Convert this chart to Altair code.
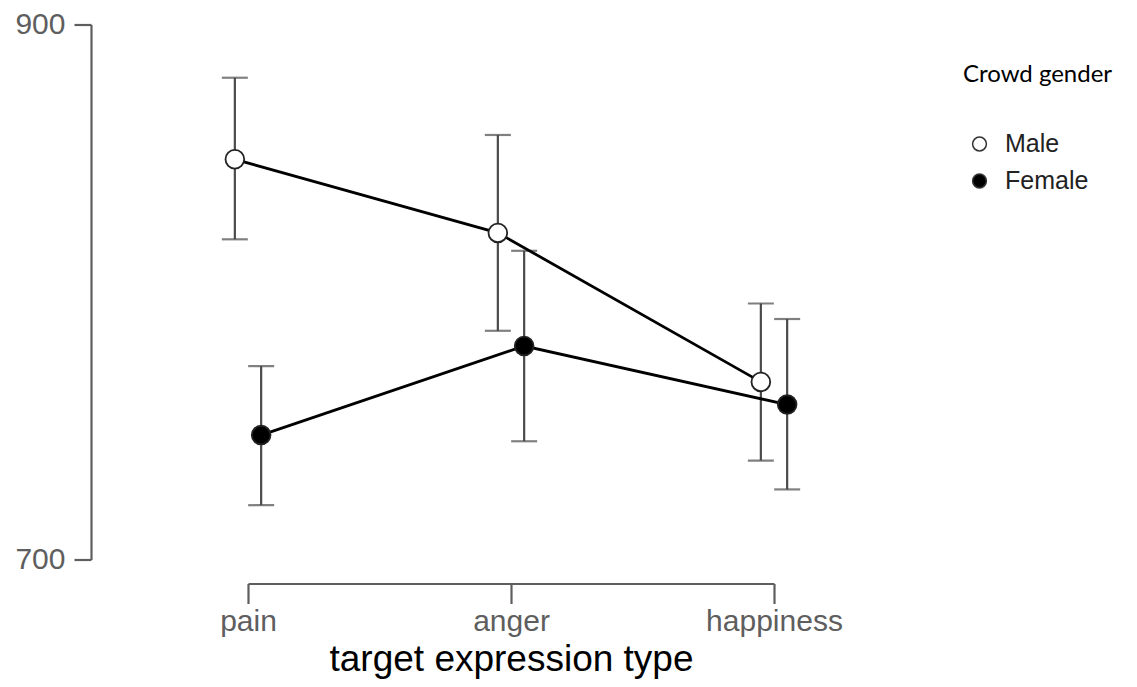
import json
import altair as alt
import pandas as pd

categories = ["pain", "anger", "happiness"]
genders = ["Male", "Female"]

male_mean = [849.6, 822.1, 766.4]
male_lo = [819.7, 785.5, 737.0]
male_hi = [880.1, 858.7, 795.7]

female_mean = [746.5, 779.8, 757.9]
female_lo = [720.3, 744.2, 726.2]
female_hi = [772.3, 815.4, 789.9]

rows = []
for i, c in enumerate(categories):
    rows.append(dict(cat=c, idx=i, gender="Male", mean=male_mean[i], lo=male_lo[i], hi=male_hi[i]))
    rows.append(dict(cat=c, idx=i, gender="Female", mean=female_mean[i], lo=female_lo[i], hi=female_hi[i]))
df = pd.DataFrame(rows)

AX = "#5e5e5e"
FONT = "Liberation Sans"

base = alt.Chart(df).transform_calculate(
    xpos="datum.idx + (datum.gender == 'Male' ? -0.05 : 0.05)"
)

x_enc = alt.X(
    "xpos:Q",
    scale=alt.Scale(domain=[0, len(categories) - 1], nice=False, zero=False),
    axis=alt.Axis(
        values=list(range(len(categories))),
        labelExpr=json.dumps(categories) + "[datum.value]",
        offset=24, tickSize=20, labelFontSize=30, labelPadding=3,
        titleFontSize=37, titleColor="black", titleFontWeight="normal",
        titlePadding=5, labelFlush=False, labelOverlap=False,
    ),
    title="target expression type",
)
y_scale = alt.Scale(domain=[700, 900], nice=False, zero=False)
y_enc = alt.Y(
    "mean:Q", scale=y_scale,
    axis=alt.Axis(values=[700, 900], offset=157, tickSize=17, labelFontSize=30, labelPadding=9),
    title=None,
)

ERR = "#4a4a4a"
err = base.mark_rule(color=ERR, strokeWidth=2.2).encode(
    x=x_enc, y=alt.Y("lo:Q", scale=y_scale), y2="hi:Q"
)
cap_lo = base.mark_tick(orient="horizontal", size=26, thickness=2.2, color=ERR).encode(
    x=x_enc, y=alt.Y("lo:Q", scale=y_scale)
)
cap_hi = base.mark_tick(orient="horizontal", size=26, thickness=2.2, color=ERR).encode(
    x=x_enc, y=alt.Y("hi:Q", scale=y_scale)
)
lines = base.mark_line(color="black", strokeWidth=2.8).encode(
    x=x_enc, y=y_enc, detail="gender:N"
)
points = base.mark_circle(size=350, stroke="#222222", strokeWidth=1.8, opacity=1).encode(
    x=x_enc, y=y_enc,
    fill=alt.Fill(
        "gender:N",
        scale=alt.Scale(domain=genders, range=["white", "black"]),
        legend=alt.Legend(
            title="Crowd gender", orient="none", legendX=715, legendY=38,
            titleFont="Lato", titleFontSize=24, titleFontWeight="normal", titleColor="black",
            titlePadding=45, labelFont=FONT, labelFontSize=25, labelColor="#222222",
            symbolType="circle", symbolSize=190, symbolStrokeColor="#333333",
            symbolStrokeWidth=1.5, symbolOffset=4, labelOffset=13, rowPadding=11,
            padding=0,
        ),
    ),
)

chart = alt.layer(err, cap_lo, cap_hi, lines, points).properties(
    width=526, height=535,
    autosize=alt.AutoSizeParams(type="none"),
    padding={"left": 240, "top": 16.5, "right": 355, "bottom": 121},
).configure_view(stroke=None).configure_axis(
    domainColor=AX, domainWidth=2.2, tickColor=AX, tickWidth=2.2,
    labelColor=AX, labelFont=FONT, titleFont=FONT, grid=False,
)

chart.save("out.html", embed_options={"renderer": "svg", "actions": False})
